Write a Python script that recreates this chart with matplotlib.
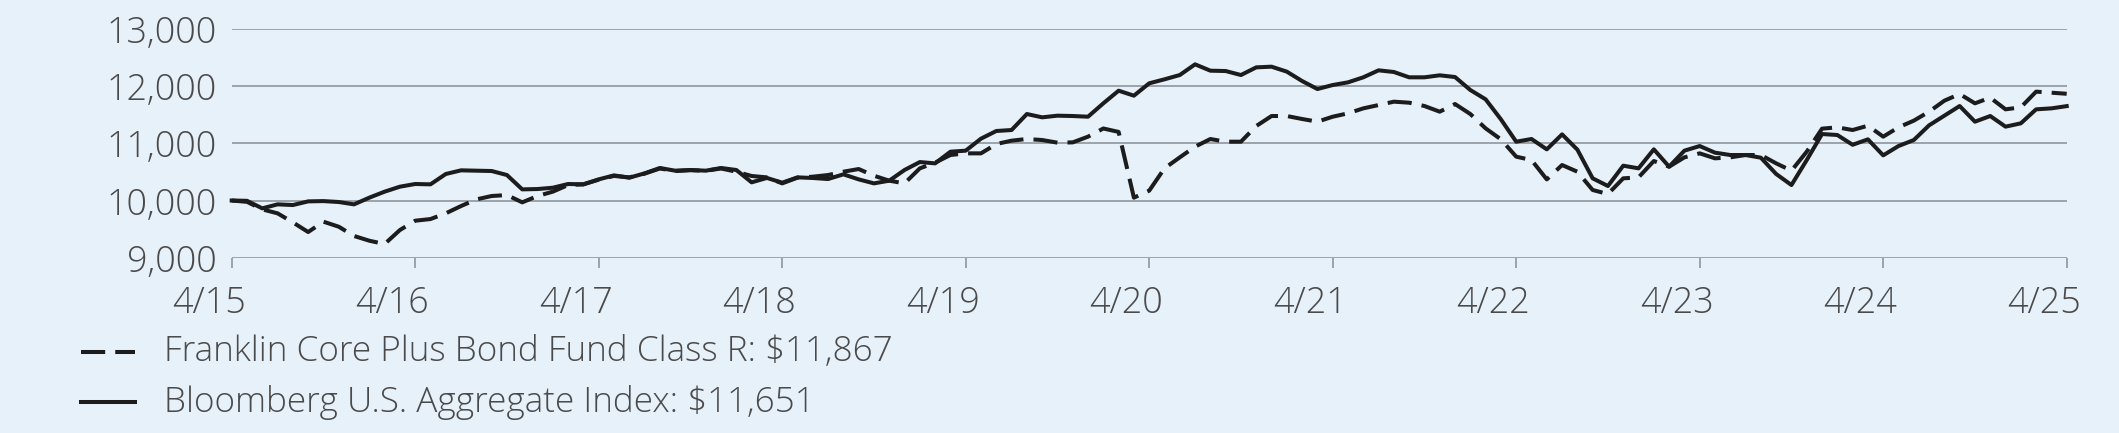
import matplotlib.pyplot as plt
import matplotlib.transforms as mtransforms
import numpy as np
from matplotlib.lines import Line2D

plt.rcParams['font.family'] = ['Open Sans', 'DejaVu Sans']
plt.rcParams['font.weight'] = 300

# monthly values, 4/15 .. 4/25 (hypothetical $10,000 investment)
fund = [10000, 9977, 9845, 9776, 9618, 9449, 9630, 9542, 9380, 9297,
        9239, 9484, 9647, 9676, 9776, 9904, 10020, 10079, 10096, 9968,
        10079, 10155, 10271, 10283, 10365, 10430, 10405, 10470, 10560, 10515,
        10530, 10520, 10560, 10504, 10429, 10405, 10300, 10400, 10417, 10446,
        10504, 10551, 10434, 10347, 10300, 10563, 10662, 10796, 10825, 10825,
        10988, 11047, 11076, 11058, 11012, 11017, 11117, 11260, 11200, 10050,
        10172, 10563, 10755, 10942, 11076, 11029, 11029, 11303, 11478, 11478,
        11426, 11379, 11466, 11525, 11612, 11670, 11729, 11711, 11653, 11554,
        11688, 11513, 11262, 11070, 10767, 10708, 10370, 10621, 10504, 10184,
        10114, 10388, 10405, 10691, 10592, 10755, 10825, 10738, 10755, 10796,
        10796, 10650, 10522, 10854, 11257, 11280, 11233, 11309, 11117, 11280,
        11397, 11554, 11746, 11863, 11700, 11799, 11595, 11630, 11904, 11886,
        11867]
index = [10000, 9995, 9863, 9933, 9921, 9985, 9990, 9974, 9933, 10050,
         10155, 10242, 10289, 10283, 10464, 10528, 10522, 10516, 10446, 10195,
         10201, 10224, 10289, 10283, 10370, 10440, 10399, 10475, 10569, 10522,
         10534, 10522, 10569, 10534, 10318, 10395, 10312, 10405, 10394, 10376,
         10458, 10370, 10300, 10347, 10534, 10673, 10650, 10854, 10872, 11082,
         11216, 11233, 11513, 11455, 11484, 11478, 11466, 11700, 11921, 11834,
         12050, 12120, 12195, 12382, 12271, 12265, 12195, 12329, 12341, 12254,
         12090, 11950, 12020, 12067, 12155, 12277, 12248, 12155, 12155, 12190,
         12160, 11933, 11770, 11420, 11029, 11076, 10895, 11157, 10890, 10388,
         10254, 10609, 10563, 10895, 10592, 10872, 10953, 10837, 10796, 10796,
         10749, 10464, 10271, 10708, 11163, 11146, 10975, 11070, 10790, 10953,
         11058, 11315, 11484, 11653, 11379, 11478, 11292, 11350, 11595, 11612,
         11651]
tick_labels = ['4/15', '4/16', '4/17', '4/18', '4/19', '4/20',
               '4/21', '4/22', '4/23', '4/24', '4/25']
y_ticks = [9000, 10000, 11000, 12000, 13000]
fund_label = 'Franklin Core Plus Bond Fund Class R: $11,867'
index_label = 'Bloomberg U.S. Aggregate Index: $11,651'

bg = '#e7f1fa'
grid_c = '#878d94'
line_c = '#1c1c1c'
text_c = '#4a4a4a'

W, H = 2119, 433
fig = plt.figure(figsize=(W / 100, H / 100), dpi=100, facecolor=bg)
ax = fig.add_axes([231.7 / W, 1 - 257.7 / H, (2066.7 - 231.7) / W, (257.7 - 29) / H])
ax.set_facecolor(bg)

x = np.arange(len(fund))
ax.plot(x, index, color=line_c, lw=2.9, zorder=3, clip_on=False)
ax.plot(x, fund, color=line_c, lw=2.9, dashes=(6, 2.5), zorder=4, clip_on=False)

ax.set_xlim(0, 120)
ax.set_ylim(9000, 13000)
ax.set_yticks(y_ticks)
ax.set_yticklabels([f'{v:,}' for v in y_ticks])
ax.set_xticks(np.arange(0, 121, 12))
ax.set_xticklabels(tick_labels)
for s in ax.spines.values():
    s.set_visible(False)
ax.grid(axis='y', color=grid_c, lw=1.1)
ax.set_axisbelow(True)
ax.tick_params(axis='y', length=0, pad=11, labelsize=25.8, labelcolor=text_c)
ax.tick_params(axis='x', length=7, width=1.1, color=grid_c, pad=13,
               labelsize=25.8, labelcolor=text_c)
# the date labels sit a little left of their ticks in the original
shift = mtransforms.ScaledTranslation(-0.23, 0, fig.dpi_scale_trans)
for t in ax.get_xticklabels():
    t.set_transform(t.get_transform() + shift)

# legend, drawn by hand below the axes
for yy, lab, dash in [(352, fund_label, (6, 2.5)), (402, index_label, None)]:
    ln = Line2D([81 / W, 135 / W], [1 - yy / H, 1 - yy / H], color=line_c, lw=2.9,
                transform=fig.transFigure)
    if dash:
        ln.set_dashes(dash)
    fig.add_artist(ln)
    fig.text(164 / W, 1 - yy / H, lab, fontsize=25.3, color=text_c, va='center')

fig.savefig('out.png', dpi=100, facecolor=bg)
